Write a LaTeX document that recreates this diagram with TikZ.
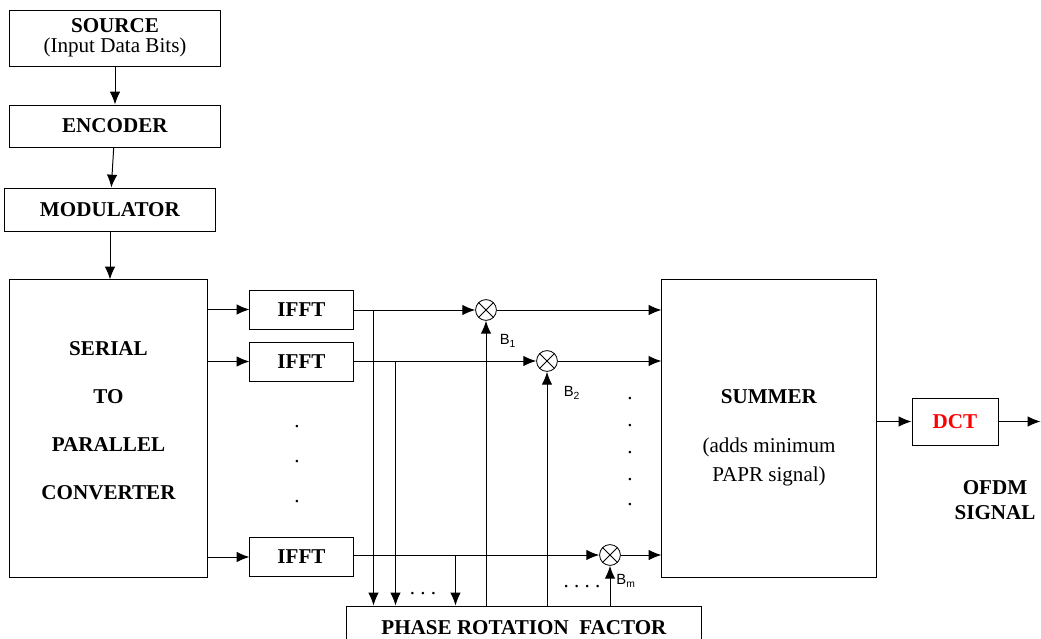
\documentclass[tikz,border=0pt]{standalone}
\usepackage{fontspec}
\setmainfont{Liberation Serif}
\setsansfont{Liberation Sans}
\usetikzlibrary{
    arrows.meta,
    positioning,
    calc
}

\begin{document}
\begin{tikzpicture}[
        x=0.025cm, y=-0.025cm,
        font=\fontsize{15}{17}\selectfont,
        block/.style={
            rectangle,
            draw,
            line width=0.7pt,
            align=center,
            inner sep=2pt
        },
        mult/.style={
            circle,
            draw,
            line width=0.6pt,
            minimum size=0.52cm,
            inner sep=0pt,
            path picture={
                \draw[line width=0.6pt]
                    (path picture bounding box.north west) -- (path picture bounding box.south east)
                    (path picture bounding box.north east) -- (path picture bounding box.south west);
            }
        },
        line/.style={
            -{Latex[length=3.2mm,width=2.6mm]},
            line width=0.7pt
        },
        coef/.style={
            font=\sffamily\fontsize{10.5}{12}\selectfont,
            inner sep=0pt
        },
        dots/.style={
            inner sep=0pt,
            anchor=base
        }
    ]

    \useasboundingbox (0,0) rectangle (1041,639);

    \node[block, minimum width=5.25cm, minimum height=1.4cm] (source) at (115,38)
        {\textbf{SOURCE}\\[-3pt](Input Data Bits)};
    \node[block, minimum width=5.25cm, minimum height=1.05cm] (encoder) at (115,126)
        {\textbf{ENCODER}};
    \node[block, minimum width=5.25cm, minimum height=1.075cm] (modulator) at (110,209.5)
        {\textbf{MODULATOR}};

    \node[block, minimum width=4.925cm, minimum height=7.425cm,
          font=\fontsize{15}{34}\selectfont\bfseries] (serpar) at (108.5,428.5)
        {SERIAL\\TO\\PARALLEL\\CONVERTER\\[-22.6pt]\mbox{}};

    \node[block, minimum width=2.575cm, minimum height=0.975cm] (ifft1) at (301.5,309.5) {\textbf{IFFT}};
    \node[block, minimum width=2.575cm, minimum height=0.975cm] (ifft2) at (301.5,361.5) {\textbf{IFFT}};
    \node[block, minimum width=2.575cm, minimum height=0.975cm] (ifft3) at (301.5,557) {\textbf{IFFT}};

    \node[mult] (mul1) at (486,310) {};
    \node[mult] (mul2) at (547,361) {};
    \node[mult] (mul3) at (610,555) {};

    \node[block, minimum width=5.35cm, minimum height=7.425cm,
          font=\fontsize{15}{20}\selectfont] (summer) at (769,428.5)
        {\mbox{}\\[3pt]\textbf{SUMMER}\\[15pt](adds minimum\\PAPR signal)};

    \node[block, minimum width=2.15cm, minimum height=1.175cm] (dct) at (955,421.5)
        {\textcolor{red}{\textbf{DCT}}};
    \node[align=center, font=\fontsize{15}{18}\selectfont\bfseries] (ofdm) at (995,500)
        {OFDM\\SIGNAL};

    \node[block, minimum width=8.85cm, minimum height=1.1cm] (prf) at (524,628)
        {\textbf{PHASE ROTATION\ \ FACTOR}};

    % taps towards the phase rotation block
    \coordinate (tap1) at ($(ifft1.east)+(20,0)$);
    \coordinate (tap2) at ($(ifft2.east)+(42,0)$);
    \coordinate (tap3) at ($(ifft3.east |- mul3)+(102,0)$);
    \coordinate (out) at ($(dct.east)+(42,0)$);

    \draw[line] (source) -- (encoder);
    \draw[line] (encoder) -- (modulator);
    \draw[line] (modulator) -- (modulator |- serpar.north);

    \foreach \k in {1,2,3} {
        \draw[line] (serpar.east |- ifft\k) -- (ifft\k);
        \draw[line] (ifft\k.east |- mul\k) -- (mul\k);
        \draw[line] (mul\k) -- (mul\k -| summer.west);
        \draw[line] (tap\k) -- (tap\k |- prf.north);
        \draw[line] (mul\k |- prf.north) -- (mul\k);
    }

    \draw[line] (summer.east |- dct) -- (dct);
    \draw[line] (dct) -- (out);

    \node[coef] (b1) at (508,341) {B\textsubscript{1}};
    \node[coef] (b2) at (572,393) {B\textsubscript{2}};
    \node[coef] (bm) at (626,581) {B\textsubscript{m}};

    % continuation dots
    \foreach \y [count=\i] in {427,462,502}
        \node[dots] (vdot\i) at (297,\y) {.};
    \foreach \y [count=\i] in {399,426,453,480,505}
        \node[dots] (rdot\i) at (630,\y) {.};
    \node[dots] (hdots1) at (423,594) {.\ .\ .};
    \node[dots] (hdots2) at (582,587) {.\ .\ .\ .};

\end{tikzpicture}
\end{document}
